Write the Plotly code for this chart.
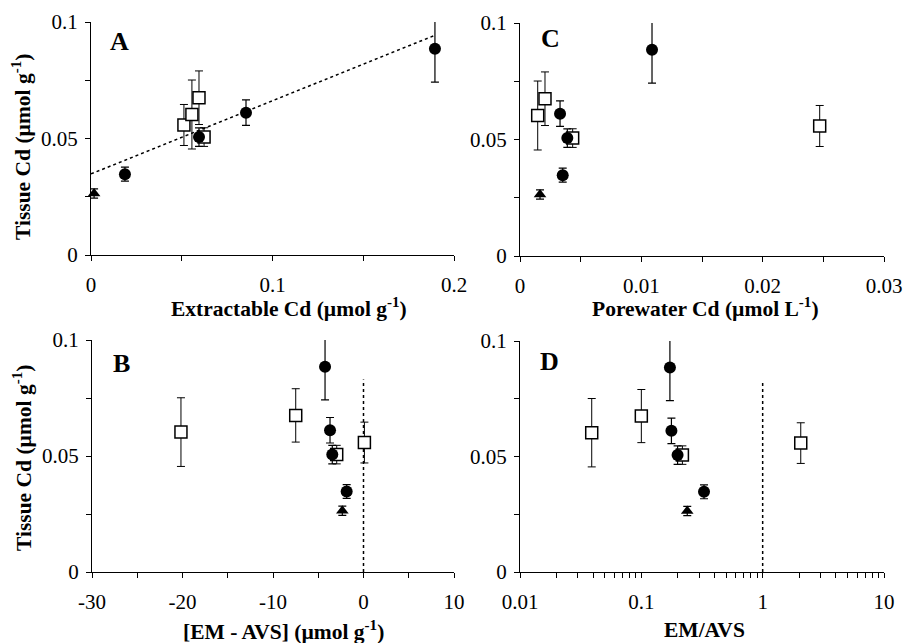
import numpy as np
import plotly.graph_objects as go

W, H = 905, 643

# ---------------- data ----------------
# Tissue Cd (µmol/g) and its error, grouped by symbol
tri_y = [0.0264]
tri_err = [0.002]
circ_y = [0.0347, 0.0506, 0.0611, 0.0885]
circ_err = [0.003, 0.004, 0.0055, 0.0143]
sq_y = [0.0558, 0.0603, 0.0675, 0.0506]
sq_err = [0.0088, 0.0148, 0.0115, 0.004]

# Panel A: extractable Cd (µmol/g)
A_tri_x = [0.0017]
A_circ_x = [0.0187, 0.0595, 0.0854, 0.1895]
A_sq_x = [0.0512, 0.0556, 0.0595, 0.0623]
trend_intercept = 0.0348
trend_slope = 0.314
trend_x = [0.0, 0.19]

# Panel C: porewater Cd (µmol/L)
C_tri_x = [0.00165]
C_circ_x = [0.00352, 0.0039, 0.0033, 0.01088]
C_sq_x = [0.0247, 0.00146, 0.00206, 0.00434]

# Panel B: [EM - AVS] (µmol/g)
B_tri_x = [-2.34]
B_circ_x = [-1.86, -3.45, -3.7, -4.25]
B_sq_x = [0.1, -20.17, -7.49, -2.96]
B_ref_x = 0.0

# Panel D: EM/AVS
D_tri_x = [0.239]
D_circ_x = [0.3285, 0.199, 0.177, 0.172]
D_sq_x = [2.06, 0.039, 0.1, 0.218]
D_ref_x = 1.0
ref_line_top = 0.083

y_ticks = [0, 0.025, 0.05, 0.075, 0.1]
y_ticklabels = ["0", "", "0.05", "", "0.1"]
A_ticks = [0, 0.05, 0.1, 0.15, 0.2]
A_ticklabels = ["0", "", "0.1", "", "0.2"]
C_ticks = [0, 0.005, 0.01, 0.015, 0.02, 0.025, 0.03]
C_ticklabels = ["0", "", "0.01", "", "0.02", "", "0.03"]
B_ticks = [-30, -25, -20, -15, -10, -5, 0, 5, 10]
B_ticklabels = ["-30", "", "-20", "", "-10", "", "0", "", "10"]
D_major = [0.01, 0.1, 1, 10]
D_majorlabels = ["0.01", "0.1", "1", "10"]

titles = {
    "A": "Extractable Cd (µmol g<sup>-1</sup>)",
    "C": "Porewater Cd (µmol L<sup>-1</sup>)",
    "B": "[EM - AVS] (µmol g<sup>-1</sup>)",
    "D": "EM/AVS",
}
ytitle = "Tissue Cd (µmol g<sup>-1</sup>)"

FONT = "Liberation Serif, Times New Roman, serif"

# ---------------- layout helpers (screen px -> paper fraction) ----------------
def px_x(p):
    return p / W

def px_y(p):
    return 1 - p / H

fig = go.Figure()

def add_points(xa, ya, tx, cx, sx):
    common = dict(mode="markers", xaxis=xa, yaxis=ya, showlegend=False,
                  cliponaxis=False, hoverinfo="x+y")
    fig.add_trace(go.Scatter(x=sx, y=sq_y,
                             error_y=dict(type="data", array=sq_err, color="black",
                                          thickness=1, width=4),
                             marker=dict(symbol="square", size=12, color="white",
                                         line=dict(color="black", width=1.5)),
                             **common))
    fig.add_trace(go.Scatter(x=cx, y=circ_y,
                             error_y=dict(type="data", array=circ_err, color="black",
                                          thickness=1.2, width=4),
                             marker=dict(symbol="circle", size=12, color="black",
                                         line=dict(color="black", width=0)),
                             **common))
    fig.add_trace(go.Scatter(x=tx, y=tri_y,
                             error_y=dict(type="data", array=tri_err, color="black",
                                          thickness=1.2, width=4),
                             marker=dict(symbol="triangle-up", size=11, color="black"),
                             **common))

# trend line panel A
trend_y = [trend_intercept + trend_slope * v for v in trend_x]
fig.add_trace(go.Scatter(x=trend_x, y=trend_y, mode="lines", xaxis="x", yaxis="y",
                         line=dict(color="black", width=1.5, dash="dot"),
                         showlegend=False, hoverinfo="skip"))
add_points("x", "y", A_tri_x, A_circ_x, A_sq_x)
add_points("x2", "y2", C_tri_x, C_circ_x, C_sq_x)

fig.add_trace(go.Scatter(x=[B_ref_x, B_ref_x], y=[0, ref_line_top], mode="lines",
                         xaxis="x3", yaxis="y3",
                         line=dict(color="black", width=1.5, dash="dot"),
                         showlegend=False, hoverinfo="skip"))
add_points("x3", "y3", B_tri_x, B_circ_x, B_sq_x)

fig.add_trace(go.Scatter(x=[D_ref_x, D_ref_x], y=[0, ref_line_top], mode="lines",
                         xaxis="x4", yaxis="y4",
                         line=dict(color="black", width=1.5, dash="dot"),
                         showlegend=False, hoverinfo="skip"))
add_points("x4", "y4", D_tri_x, D_circ_x, D_sq_x)

tickfont = dict(family=FONT, size=21, color="black")

def axis_common():
    return dict(showline=True, linecolor="black", linewidth=1, showgrid=False,
                zeroline=False, ticks="outside", ticklen=5, tickwidth=1,
                tickcolor="black", tickfont=tickfont, mirror=False, automargin=False)

# D log ticks
D_tickvals, D_ticktext = [], []
for k in range(-2, 1):
    for m in range(1, 10):
        v = m * 10.0 ** k
        D_tickvals.append(v)
        D_ticktext.append(D_majorlabels[k + 2] if m == 1 else "")
D_tickvals.append(10)
D_ticktext.append("10")

dom = {
    "A": ([px_x(91), px_x(454)], [px_y(255), px_y(22)]),
    "C": ([px_x(520), px_x(884)], [px_y(256), px_y(23)]),
    "B": ([px_x(92), px_x(454)], [px_y(572), px_y(340)]),
    "D": ([px_x(520), px_x(884)], [px_y(572), px_y(341)]),
}

layout = dict(
    width=W, height=H, margin=dict(l=0, r=0, t=0, b=0, autoexpand=False),
    paper_bgcolor="white", plot_bgcolor="white",
    font=dict(family=FONT, color="black"),
)

def yaxis(anchor, d):
    a = axis_common()
    a.update(domain=d, anchor=anchor, range=[0, 0.1], tickvals=y_ticks,
             ticktext=y_ticklabels, ticklabelstandoff=3)
    return a

def xaxis(anchor, d, rng, tv, tt, typ="linear"):
    a = axis_common()
    a.update(domain=d, anchor=anchor, range=rng, tickvals=tv, ticktext=tt,
             type=typ, ticklabelstandoff=6)
    return a

layout["xaxis"] = xaxis("y", dom["A"][0], [0, 0.2], A_ticks, A_ticklabels)
layout["yaxis"] = yaxis("x", dom["A"][1])
layout["xaxis2"] = xaxis("y2", dom["C"][0], [0, 0.03], C_ticks, C_ticklabels)
layout["yaxis2"] = yaxis("x2", dom["C"][1])
layout["xaxis3"] = xaxis("y3", dom["B"][0], [-30, 10], B_ticks, B_ticklabels)
layout["yaxis3"] = yaxis("x3", dom["B"][1])
layout["xaxis4"] = xaxis("y4", dom["D"][0], [-2, 1], D_tickvals, D_ticktext, typ="log")
layout["yaxis4"] = yaxis("x4", dom["D"][1])

fig.update_layout(**layout)

ann = []
def add_text(text, x, y, size=21.5, angle=0):
    ann.append(dict(text=text, x=px_x(x), y=px_y(y), xref="paper", yref="paper",
                    showarrow=False, textangle=angle, xanchor="center", yanchor="middle",
                    font=dict(family=FONT, size=size, color="black")))

add_text("<b>" + titles["A"] + "</b>", 289, 307)
add_text("<b>" + titles["C"] + "</b>", 705, 307)
add_text("<b>" + titles["B"] + "</b>", 283, 630)
add_text("<b>" + titles["D"] + "</b>", 704, 630)
add_text("<b>" + ytitle + "</b>", 22, 147, angle=-90)
add_text("<b>" + ytitle + "</b>", 22, 458, angle=-90)
add_text("<b>A</b>", 119, 41, size=26)
add_text("<b>C</b>", 550, 39, size=26)
add_text("<b>B</b>", 121, 363, size=26)
add_text("<b>D</b>", 549, 361, size=26)
fig.update_layout(annotations=ann)

fig.write_html(
    "out.html",
    config={"displayModeBar": False},
    post_script="document.body.style.margin='0';document.body.style.overflow='hidden';",
)
